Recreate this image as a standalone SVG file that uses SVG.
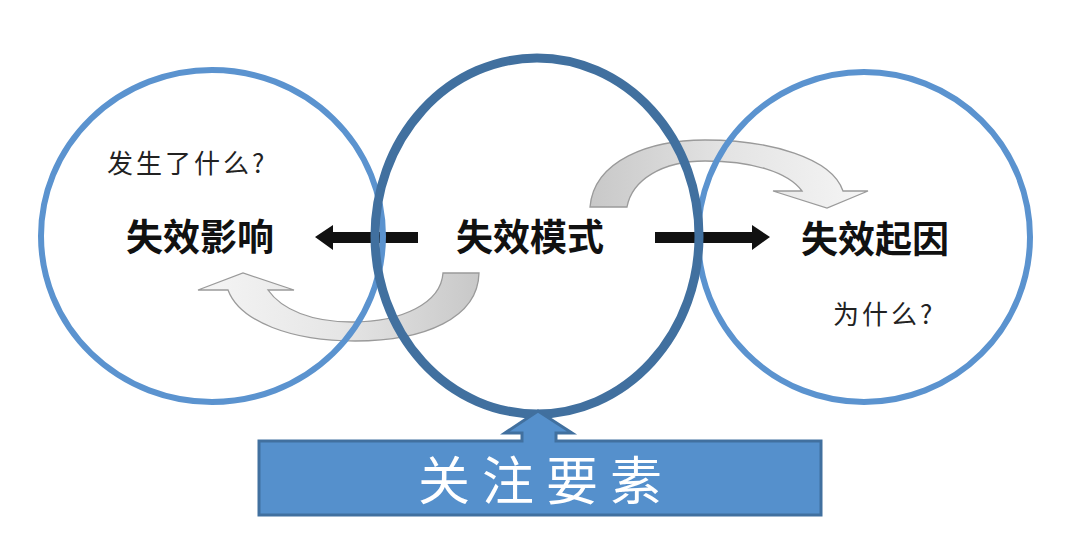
<svg xmlns="http://www.w3.org/2000/svg" width="1080" height="547" viewBox="0 0 1080 547">
<defs>
<linearGradient id="gTop" x1="0" y1="0" x2="1" y2="0">
<stop offset="0" stop-color="#c8c8c8"/><stop offset="0.5" stop-color="#e4e4e4"/><stop offset="1" stop-color="#f5f5f5"/>
</linearGradient>
<linearGradient id="gBot" x1="0" y1="0" x2="1" y2="0">
<stop offset="0" stop-color="#f5f5f5"/><stop offset="0.5" stop-color="#e6e6e6"/><stop offset="1" stop-color="#c8c8c8"/>
</linearGradient>
<style>
.curve{stroke:#9a9a9a;stroke-width:1.3;}
.ring{fill:none;stroke:#5b93cf;stroke-width:6;}
.ringMid{fill:none;stroke:#41709f;stroke-width:9;}
.blk{fill:#111;}
.main{font-family:"Noto Sans CJK SC","Liberation Sans",sans-serif;font-weight:700;font-size:37px;fill:#111;text-anchor:middle;}
.q{font-family:"Noto Sans CJK SC","Liberation Serif",serif;font-weight:400;font-size:26px;fill:#222;letter-spacing:3px;}
.box{fill:#5590cc;stroke:#41709f;stroke-width:3;}
.boxText{font-family:"Noto Sans CJK SC","Liberation Sans",sans-serif;font-size:52px;fill:#fff;text-anchor:middle;letter-spacing:12px;}
</style>
</defs>
<rect width="1080" height="547" fill="#fff"/>
<g id="connectors">
<path class="curve" fill="url(#gTop)" d="M590,207 C594,160 650,140 705,140 C770,140 832,158 843,191 L868,191 L827,208 L773,191 L802,191 C788,172 752,161 705,161 C662,161 632,180 627,207 Z"/>
<path class="curve" fill="url(#gBot)" d="M479,273 C478,318 425,341 355,341 C292,341 240,322 228,290 L198,290 L243,273 L294,290 L268,290 C282,310 312,322 352,322 C402,322 441,303 443,273 Z"/>
<polygon class="blk" points="315,237 333,225 333,232 418,232 418,243 333,243 333,250"/>
<polygon class="blk" points="770,237 752,225 752,232 655,232 655,243 752,243 752,250"/>
</g>
<g id="circle-left"><ellipse class="ring" cx="212" cy="236" rx="171" ry="166"/></g>
<g id="circle-right"><ellipse class="ring" cx="864" cy="237" rx="166" ry="165"/></g>
<g id="circle-mid"><ellipse class="ringMid" cx="537" cy="236" rx="162" ry="178"/></g>
<g id="focus">
<path class="box" d="M259,441 L522,441 L522,433 L505,433 L538,411 L572,433 L556,433 L556,441 L821,441 L821,515 L259,515 Z"/>
<text class="boxText" x="546" y="500">关注要素</text>
</g>
<g id="labels">
<text class="main" x="200" y="251">失效影响</text>
<text class="main" x="530" y="251">失效模式</text>
<text class="main" x="875" y="253">失效起因</text>
<text class="q" x="107" y="173">发生了什么?</text>
<text class="q" x="833" y="324">为什么?</text>
</g>
</svg>
